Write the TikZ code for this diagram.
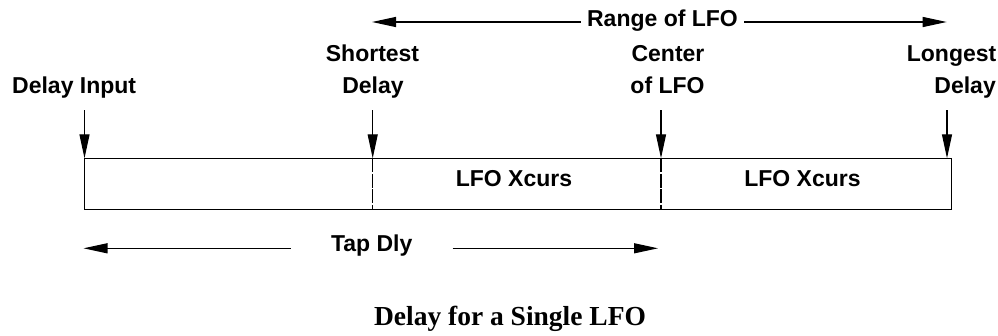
\documentclass[tikz,border=0pt]{standalone}
\usepackage{fontspec}
\setmainfont{Liberation Serif}
\setsansfont{Liberation Sans}
\usetikzlibrary{arrows.meta}
\begin{document}
\begin{tikzpicture}[x=1pt,y=-1pt,
  lbl/.style={font=\sffamily\bfseries\fontsize{23}{27}\selectfont, inner sep=0pt},
  arr/.style={line width=1.2pt, -{Triangle[length=24pt,width=10pt]}},
  seg/.style={draw, line width=1.2pt},
  divider/.style={line width=1.2pt, dash pattern=on 14pt off 1.5pt},
  capt/.style={font=\bfseries\fontsize{27.5}{32}\selectfont, inner sep=0pt}]
\useasboundingbox (0,0) rectangle (998,335);
% top labels
\node[lbl, anchor=base west] (di) at (12,93) {Delay Input};
\node[lbl, anchor=base] (sd1) at (372.5,61) {Shortest};
\node[lbl, anchor=base] (sd2) at (373,93) {Delay};
\node[lbl, anchor=base] (cl1) at (668,61) {Center};
\node[lbl, anchor=base] (cl2) at (667.5,93) {of LFO};
\node[lbl, anchor=base east] (ld1) at (996.5,61) {Longest};
\node[lbl, anchor=base east] (ld2) at (996,93) {Delay};
% range of LFO
\node[lbl, anchor=base, inner xsep=6pt] (rg) at (662.5,26.7) {Range of LFO};
\coordinate (rl) at (372,22);
\coordinate (rr) at (946.7,22);
\draw[arr] (rg.west |- rl) -- (rl);
\draw[arr] (rg.east |- rr) -- (rr);
% box
\coordinate (b0) at (84.5,158.3);
\coordinate (b1) at (372.7,158.3);
\coordinate (b2) at (661,158.3);
\coordinate (b3) at (951.7,158.3);
\coordinate (c0) at (84.5,209.3);
\coordinate (c1) at (372.7,209.3);
\coordinate (c2) at (661,209.3);
\coordinate (c3) at (951.7,209.3);
\draw[seg] (b0) -- (b3) -- (c3) -- (c0) -- cycle;
\draw[divider] (b1) -- (c1);
\draw[divider] (b2) -- (c2);
\node[lbl, anchor=base] (x1) at (514,186.7) {LFO Xcurs};
\node[lbl, anchor=base] (x2) at (802.5,186.7) {LFO Xcurs};
% down arrows
\coordinate (a0) at (84.5,110);
\coordinate (a1) at (372.7,110);
\coordinate (a2) at (661,110);
\coordinate (a3) at (947,110);
\draw[arr] (a0) -- (a0 |- b0);
\draw[arr] (a1) -- (b1);
\draw[arr] (a2) -- (b2);
\draw[arr] (a3) -- (a3 |- b3);
% tap dly
\node[lbl, anchor=base, inner xsep=40pt] (tap) at (371.7,251.7) {Tap Dly};
\coordinate (tl) at (83.5,248.3);
\coordinate (tr) at (658,248.3);
\draw[arr] (tap.west |- tl) -- (tl);
\draw[arr] (tap.east |- tr) -- (tr);
% caption
\node[capt, anchor=base] (cap) at (510,325) {Delay for a Single LFO};
\end{tikzpicture}
\end{document}
